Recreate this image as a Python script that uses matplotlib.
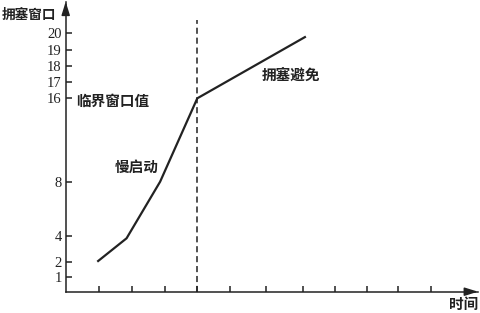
#!/usr/bin/env python

import numpy as np
import matplotlib
matplotlib.use('Agg')
import matplotlib.pyplot as plt

plt.rcParams['font.family'] = ['Liberation Serif', 'Noto Sans CJK SC']
cjk = ['Noto Sans CJK SC', 'DejaVu Sans']

# データ
t = [0.96, 1.85, 2.87, 4.0, 7.3]
cwnd = [2, 3.8, 8, 16, 19.8]
ssthresh_t = 4.0
y_ticks = [1, 2, 4, 8, 16, 17, 18, 19, 20]
x_ticks = [1, 2, 3.03, 4, 5, 6.1, 7.2, 8.2, 9.15, 10.1, 11.1]

# 縦軸は不等間隔（模式図）
knot_v = np.array([0, 1, 2, 4, 8, 16, 20, 22])
knot_p = np.array([0, 14.7, 30, 56, 110, 193.4, 258.4, 290.9])

def fwd(v):
    return np.interp(v, knot_v, knot_p)

def inv(p):
    return np.interp(p, knot_p, knot_v)

fig = plt.figure(figsize=(4.8, 3.13), dpi=100)
ax = fig.add_axes([65.7/480, 21.3/313, (478-65.7)/480, 290.0/313])
ax.set_yscale('function', functions=(fwd, inv))

col = '#222222'
ax.plot(t, cwnd, '-', color=col, lw=1.6, solid_capstyle='butt')
ax.plot([ssthresh_t, ssthresh_t], [0, 20.8], color=col, lw=1.1,
        linestyle=(0, (4, 2.5)))

ax.set_xlim(0, (478-65.7)/32.9)
ax.set_ylim(0, inv(290.0))

# 軸
for s in ['top', 'right']:
    ax.spines[s].set_visible(False)
for s in ['left', 'bottom']:
    ax.spines[s].set_color(col)
    ax.spines[s].set_linewidth(1.1)
ax.annotate('', xy=(1, 0), xytext=(0.97, 0), xycoords='axes fraction',
            arrowprops=dict(arrowstyle='-|>,head_length=0.8,head_width=0.25',
                            color=col, lw=1.1, mutation_scale=10, shrinkA=0, shrinkB=0))
ax.annotate('', xy=(0, 1), xytext=(0, 0.96), xycoords='axes fraction',
            arrowprops=dict(arrowstyle='-|>,head_length=0.8,head_width=0.25',
                            color=col, lw=1.1, mutation_scale=10, shrinkA=0, shrinkB=0))

ax.set_yticks(y_ticks)
ax.set_yticklabels([str(v) for v in y_ticks])
ax.yaxis.set_minor_locator(matplotlib.ticker.NullLocator())
ax.set_xticks(x_ticks)
ax.set_xticklabels([])
ax.tick_params(direction='in', length=4, width=1.1, color=col,
               labelsize=10.5, labelcolor=col, pad=2.8)

# ラベル
tk = dict(family=cjk, fontsize=10.5, color=col, fontweight='bold', va='center')
ax.text(-1.95, 21.13, '拥塞窗口', ha='left', clip_on=False,
        **{**tk, 'fontsize': 9.8})
ax.text(0.33, 15.75, '临界窗口值', ha='left', **tk)
ax.text(1.5, 9.44, '慢启动', ha='left', **tk)
ax.text(5.96, 17.48, '拥塞避免', ha='left', **tk)
ax.text(11.65, -0.042, '时间', ha='left', transform=ax.get_xaxis_transform(),
        clip_on=False, **tk)

plt.savefig('out.png', dpi=100)
